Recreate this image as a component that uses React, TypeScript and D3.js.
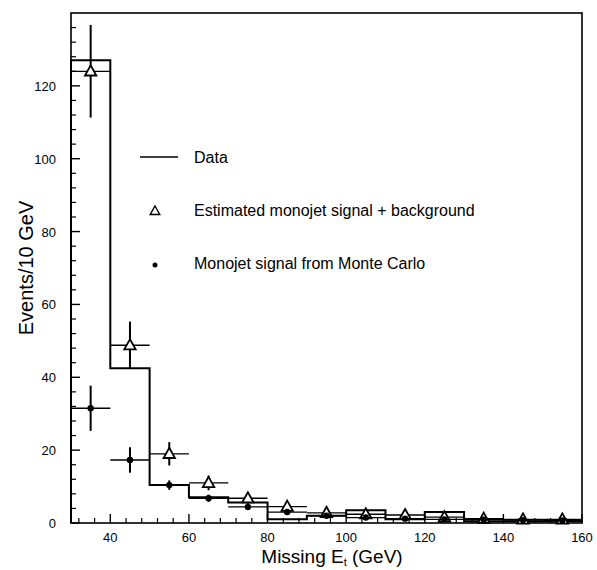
import React from "react";
import * as d3 from "d3";

const binEdges = [30, 40, 50, 60, 70, 80, 90, 100, 110, 120, 130, 140, 150, 160];
const dataCounts = [127, 42.5, 10.4, 7.1, 5.6, 1, 2, 3.5, 1, 3, 0.5, 0.5, 0.5];

const estX = [35, 45, 55, 65, 75, 85, 95, 105, 115, 125, 135, 145, 155];
const estY = [124, 48.8, 19, 11, 6.8, 4.5, 2.8, 2.4, 2.2, 1.6, 1.2, 1, 1];
const estErr = [12.7, 6.5, 3.2, 2, 1.5, 1, 0.9, 0.8, 0.8, 0.7, 0.6, 0.6, 0.6];

const mcX = [35, 45, 55, 65, 75, 85, 95, 105, 115, 125, 135, 145, 155];
const mcY = [31.5, 17.3, 10.4, 6.8, 4.4, 3, 2, 1.5, 1.2, 1, 0.9, 0.8, 0.7];
const mcErr = [6.2, 3.5, 1.3, 1, 0.8, 0.6, 0.5, 0.5, 0.5, 0.5, 0.5, 0.5, 0.5];

const xTicks = [40, 60, 80, 100, 120, 140, 160];
const yTicks = [0, 20, 40, 60, 80, 100, 120];

const legendLabels = ["Data", "Estimated monojet signal + background", "Monojet signal from Monte Carlo"];

export default function App() {
  const W = 597, H = 570;
  const left = 71, right = 582, top = 13, bottom = 523;
  const x = d3.scaleLinear().domain([30, 160]).range([left, right]);
  const y = d3.scaleLinear().domain([0, 140]).range([bottom, top]);

  const pts: [number, number][] = [];
  pts.push([x(binEdges[0]), y(0)]);
  dataCounts.forEach((c, i) => {
    pts.push([x(binEdges[i]), y(c)]);
    pts.push([x(binEdges[i + 1]), y(c)]);
  });
  pts.push([x(binEdges[binEdges.length - 1]), y(0)]);
  const histPath = d3.line()(pts) || "";

  const xMinor = d3.range(32, 161, 4).filter((v) => v % 20 !== 0);
  const yMinor = d3.range(4, 140, 4).filter((v) => v % 20 !== 0);
  const font = "'Liberation Sans', Arial, sans-serif";

  const tri = (cx: number, cy: number, s: number) =>
    `M${cx},${cy - s} L${cx + s * 0.95},${cy + s * 0.7} L${cx - s * 0.95},${cy + s * 0.7} Z`;

  return (
    <svg width={W} height={H} style={{ position: "absolute", left: 0, top: 0, background: "#fff" }}>
      <rect x={0} y={0} width={W} height={H} fill="#fff" />
      <rect x={left} y={top} width={right - left} height={bottom - top} fill="none" stroke="#000" strokeWidth={1.6} />
      {xTicks.map((t) => (
        <g key={"xt" + t}>
          <line x1={x(t)} x2={x(t)} y1={bottom} y2={bottom - 9} stroke="#000" strokeWidth={1.4} />
          <text x={x(t)} y={bottom + 19} fontSize={13} fontFamily={font} textAnchor="middle">{t}</text>
        </g>
      ))}
      {xMinor.map((t) => (
        <line key={"xm" + t} x1={x(t)} x2={x(t)} y1={bottom} y2={bottom - 5} stroke="#000" strokeWidth={1.2} />
      ))}
      {yTicks.map((t) => (
        <g key={"yt" + t}>
          <line x1={left} x2={left + 9} y1={y(t)} y2={y(t)} stroke="#000" strokeWidth={1.4} />
          <text x={left - 15} y={y(t) + 5} fontSize={13} fontFamily={font} textAnchor="end">{t}</text>
        </g>
      ))}
      {yMinor.map((t) => (
        <line key={"ym" + t} x1={left} x2={left + 5} y1={y(t)} y2={y(t)} stroke="#000" strokeWidth={1.2} />
      ))}
      <path d={histPath} fill="none" stroke="#000" strokeWidth={2} />
      {estX.map((cx, i) => (
        <g key={"e" + i}>
          <line x1={x(cx - 5)} x2={x(cx + 5)} y1={y(estY[i])} y2={y(estY[i])} stroke="#000" strokeWidth={1.3} />
          <line x1={x(cx)} x2={x(cx)} y1={y(estY[i] + estErr[i])} y2={y(estY[i] - estErr[i])} stroke="#000" strokeWidth={2} />
          <path d={tri(x(cx), y(estY[i]), 6)} fill="#fff" stroke="#000" strokeWidth={1.8} />
        </g>
      ))}
      {mcX.map((cx, i) => (
        <g key={"m" + i}>
          <line x1={x(cx - 5)} x2={x(cx + 5)} y1={y(mcY[i])} y2={y(mcY[i])} stroke="#000" strokeWidth={1.3} />
          <line x1={x(cx)} x2={x(cx)} y1={y(mcY[i] + mcErr[i])} y2={y(mcY[i] - mcErr[i])} stroke="#000" strokeWidth={2} />
          <circle cx={x(cx)} cy={y(mcY[i])} r={3.2} fill="#000" />
        </g>
      ))}
      <line x1={140} x2={178} y1={157} y2={157} stroke="#000" strokeWidth={1.6} />
      <text x={194} y={163} fontSize={16} fontFamily={font}>{legendLabels[0]}</text>
      <path d={tri(155, 211, 5)} fill="#fff" stroke="#000" strokeWidth={1.4} />
      <text x={194} y={216} fontSize={16} fontFamily={font}>{legendLabels[1]}</text>
      <circle cx={155} cy={265} r={2.5} fill="#000" />
      <text x={194} y={269} fontSize={16} fontFamily={font}>{legendLabels[2]}</text>
      <text x={332} y={563} fontSize={19} fontFamily={font} textAnchor="middle">
        Missing E<tspan fontSize={11} dy={3}>t</tspan><tspan dy={-3}> (GeV)</tspan>
      </text>
      <text transform={`translate(33,${268}) rotate(-90)`} fontSize={20} fontFamily={font} textAnchor="middle">
        Events/10 GeV
      </text>
    </svg>
  );
}
